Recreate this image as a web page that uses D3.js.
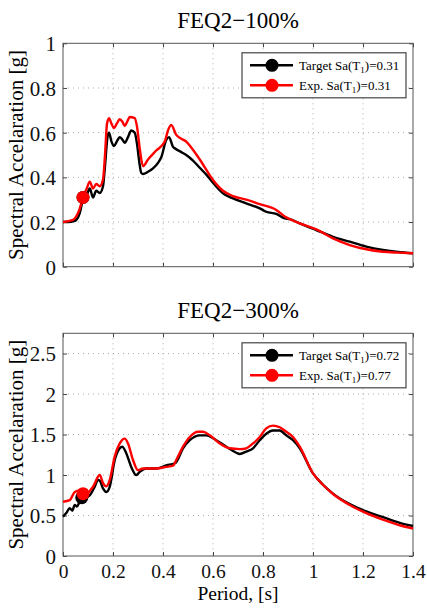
<!DOCTYPE html>
<html>
<head>
<meta charset="utf-8">
<script src="https://cdn.jsdelivr.net/npm/d3@7"></script>
<style>
  html, body { margin: 0; padding: 0; background: #fff; }
  svg { display: block; font-family: "Liberation Serif", "Times New Roman", serif; }
</style>
</head>
<body>
<svg id="chart" width="427" height="610"></svg>
<script>
// --- data ---
const xTicks = [0, 0.2, 0.4, 0.6, 0.8, 1, 1.2, 1.4];
const xTickLabels = ["0", "0.2", "0.4", "0.6", "0.8", "1", "1.2", "1.4"];

// FEQ2-100%
const topTicks = [0, 0.2, 0.4, 0.6, 0.8, 1];
const topTickLabels = ["0", "0.2", "0.4", "0.6", "0.8", "1"];
const topTargetT = [0, 0.02, 0.047, 0.067, 0.08, 0.095, 0.107, 0.12, 0.133, 0.147,
  0.16, 0.168, 0.178, 0.184, 0.194, 0.204, 0.215, 0.227, 0.237, 0.247,
  0.26, 0.273, 0.287, 0.296, 0.305, 0.313, 0.32, 0.34, 0.36, 0.38,
  0.393, 0.413, 0.424, 0.44, 0.447, 0.47, 0.493, 0.52, 0.547, 0.575,
  0.6, 0.62, 0.64, 0.68, 0.733, 0.787, 0.813, 0.853, 0.887, 0.907,
  0.947, 1.013, 1.08, 1.147, 1.213, 1.28, 1.34, 1.4];
const topTargetSa = [0.2, 0.2, 0.205, 0.24, 0.30, 0.32, 0.35, 0.31, 0.34, 0.33,
  0.36, 0.45, 0.58, 0.6, 0.56, 0.54, 0.56, 0.58, 0.57, 0.555,
  0.58, 0.61, 0.6, 0.55, 0.47, 0.42, 0.415, 0.425, 0.44, 0.465,
  0.49, 0.567, 0.58, 0.537, 0.53, 0.515, 0.5, 0.475, 0.443, 0.41,
  0.376, 0.35, 0.328, 0.306, 0.284, 0.261, 0.246, 0.236, 0.216, 0.213,
  0.194, 0.164, 0.134, 0.112, 0.09, 0.075, 0.066, 0.06];
const topExpT = [0, 0.04, 0.067, 0.08, 0.095, 0.107, 0.12, 0.133, 0.147, 0.16,
  0.168, 0.176, 0.184, 0.194, 0.204, 0.215, 0.227, 0.237, 0.247, 0.257,
  0.267, 0.287, 0.296, 0.308, 0.32, 0.34, 0.373, 0.407, 0.42, 0.433,
  0.453, 0.493, 0.547, 0.6, 0.64, 0.68, 0.733, 0.787, 0.853, 0.887,
  0.907, 0.947, 1.013, 1.08, 1.147, 1.213, 1.28, 1.34, 1.4];
const topExpSa = [0.2, 0.21, 0.26, 0.31, 0.35, 0.38, 0.35, 0.37, 0.36, 0.39,
  0.5, 0.64, 0.665, 0.64, 0.62, 0.64, 0.66, 0.65, 0.63, 0.65,
  0.67, 0.665, 0.627, 0.52, 0.45, 0.48, 0.52, 0.56, 0.61, 0.634,
  0.59, 0.56, 0.48, 0.388, 0.34, 0.316, 0.30, 0.28, 0.254, 0.225,
  0.213, 0.194, 0.167, 0.127, 0.097, 0.078, 0.067, 0.063, 0.06];
const topMarkers = [[0.08, 0.31], [0.08, 0.31]];
const topLegend = ["0.31", "0.31"];

// FEQ2-300%
const botTicks = [0, 0.5, 1, 1.5, 2, 2.5];
const botTickLabels = ["0", "0.5", "1", "1.5", "2", "2.5"];
const botTargetT = [0, 0.013, 0.027, 0.037, 0.047, 0.056, 0.067, 0.08, 0.093, 0.107,
  0.127, 0.14, 0.147, 0.16, 0.173, 0.187, 0.207, 0.227, 0.237, 0.253,
  0.273, 0.293, 0.307, 0.333, 0.373, 0.413, 0.447, 0.453, 0.48, 0.507,
  0.547, 0.573, 0.613, 0.653, 0.693, 0.707, 0.733, 0.76, 0.787, 0.813,
  0.84, 0.867, 0.893, 0.92, 0.947, 1.0, 1.04, 1.08, 1.147, 1.213,
  1.28, 1.347, 1.4];
const botTargetSa = [0.486, 0.53, 0.59, 0.56, 0.63, 0.61, 0.67, 0.69, 0.72, 0.75,
  0.856, 0.94, 0.93, 0.835, 0.79, 0.856, 1.185, 1.33, 1.35, 1.27,
  1.10, 1.0, 1.04, 1.08, 1.08, 1.12, 1.145, 1.16, 1.33, 1.43,
  1.49, 1.49, 1.43, 1.35, 1.275, 1.26, 1.29, 1.33, 1.43, 1.51,
  1.55, 1.55, 1.49, 1.43, 1.33, 1.02, 0.88, 0.77, 0.64, 0.55,
  0.48, 0.41, 0.37];
const botExpT = [0, 0.027, 0.047, 0.067, 0.093, 0.12, 0.147, 0.16, 0.173, 0.187,
  0.207, 0.227, 0.247, 0.26, 0.28, 0.3, 0.32, 0.373, 0.413, 0.44,
  0.453, 0.48, 0.507, 0.54, 0.56, 0.587, 0.627, 0.667, 0.707, 0.733,
  0.76, 0.787, 0.813, 0.84, 0.867, 0.893, 0.92, 0.947, 1.0, 1.04,
  1.08, 1.147, 1.213, 1.28, 1.347, 1.4];
const botExpSa = [0.67, 0.69, 0.79, 0.81, 0.77, 0.856, 1.0, 0.9, 0.86, 0.94,
  1.23, 1.39, 1.45, 1.39, 1.185, 1.06, 1.08, 1.08, 1.10, 1.115,
  1.185, 1.35, 1.47, 1.535, 1.535, 1.49, 1.39, 1.33, 1.32, 1.33,
  1.39, 1.47, 1.576, 1.61, 1.59, 1.535, 1.47, 1.35, 1.02, 0.88,
  0.765, 0.63, 0.53, 0.45, 0.38, 0.34];
const botMarkers = [[0.075, 0.72], [0.08, 0.77]];
const botLegend = ["0.72", "0.77"];

const colors = ["#000000", "#ff0000"];

// --- layout ---
const svg = d3.select("#chart");
const left = 63, right = 413;

const x = d3.scaleLinear().domain([0, 1.4]).range([left, right]);

function panel(cfg) {
  const y = d3.scaleLinear().domain([0, cfg.yMax]).range([cfg.bottom, cfg.top]);
  const g = svg.append("g");

  // title
  g.append("text")
    .attr("x", (left + right) / 2).attr("y", cfg.top - 15)
    .attr("text-anchor", "middle").attr("font-size", 23)
    .text(cfg.title);

  // grid
  g.selectAll("line.gx").data(xTicks.slice(1, -1)).enter().append("line")
    .attr("x1", d => x(d)).attr("x2", d => x(d))
    .attr("y1", cfg.top).attr("y2", cfg.bottom)
    .attr("stroke", "#aaa").attr("stroke-width", 1).attr("stroke-dasharray", "1,4");
  g.selectAll("line.gy").data(cfg.yTicks.filter(v => v > 0 && v < cfg.yMax)).enter().append("line")
    .attr("y1", d => y(d)).attr("y2", d => y(d))
    .attr("x1", left).attr("x2", right)
    .attr("stroke", "#aaa").attr("stroke-width", 1).attr("stroke-dasharray", "1,4");

  // axes with inward ticks, box on
  const xb = d3.axisBottom(x).tickValues(xTicks).tickSizeInner(-4).tickSizeOuter(0)
    .tickFormat((d, i) => cfg.xLabels ? xTickLabels[i] : "");
  const xt = d3.axisTop(x).tickValues(xTicks).tickSizeInner(-4).tickSizeOuter(0).tickFormat("");
  const yl = d3.axisLeft(y).tickValues(cfg.yTicks).tickSizeInner(-4).tickSizeOuter(0)
    .tickFormat((d, i) => cfg.yLabels[i]);
  const yr = d3.axisRight(y).tickValues(cfg.yTicks).tickSizeInner(-4).tickSizeOuter(0).tickFormat("");

  const axes = [
    g.append("g").attr("transform", `translate(0,${cfg.bottom})`).call(xb),
    g.append("g").attr("transform", `translate(0,${cfg.top})`).call(xt),
    g.append("g").attr("transform", `translate(${left},0)`).call(yl),
    g.append("g").attr("transform", `translate(${right},0)`).call(yr)
  ];
  axes.forEach(a => {
    a.select(".domain").remove();
    a.selectAll("line").attr("stroke", "#444");
    a.selectAll("text").attr("font-family", "Liberation Serif, serif")
      .attr("font-size", 21).attr("fill", "#111");
  });
  axes[0].selectAll("text").attr("dy", null).attr("y", 22).attr("font-size", 19.5);
  axes[2].selectAll("text").attr("x", -7).attr("dy", "0.35em");

  g.append("rect")
    .attr("x", left).attr("y", cfg.top)
    .attr("width", right - left).attr("height", cfg.bottom - cfg.top)
    .attr("fill", "none").attr("stroke", "#555").attr("stroke-width", 1);

  // y label
  g.append("text")
    .attr("transform", `translate(23,${(cfg.top + cfg.bottom) / 2}) rotate(-90)`)
    .attr("text-anchor", "middle").attr("font-size", 21)
    .text("Spectral Accelaration [g]");

  // curves
  const line = d3.line().x(d => x(d[0])).y(d => y(d[1])).curve(d3.curveMonotoneX);
  cfg.series.forEach((s, i) => {
    const pts = s.T.map((t, k) => [t, s.Sa[k]]);
    g.append("path").datum(pts)
      .attr("d", line)
      .attr("fill", "none").attr("stroke", colors[i])
      .attr("stroke-width", 2.4).attr("stroke-linejoin", "round");
  });
  cfg.markers.forEach((m, i) => {
    g.append("circle")
      .attr("cx", x(m[0])).attr("cy", y(m[1])).attr("r", 6.5)
      .attr("fill", colors[i]);
  });

  // legend
  const lx = 242, ly = cfg.top + 9.5, lw = 164, lh = 45;
  g.append("rect").attr("x", lx).attr("y", ly).attr("width", lw).attr("height", lh)
    .attr("fill", "#fff").attr("stroke", "#444").attr("stroke-width", 1.2);
  const names = ["Target", "Exp."];
  names.forEach((n, i) => {
    const yy = ly + 12.5 + i * 20;
    g.append("line").attr("x1", lx + 8).attr("x2", lx + 51).attr("y1", yy).attr("y2", yy)
      .attr("stroke", colors[i]).attr("stroke-width", 2.4);
    g.append("circle").attr("cx", lx + 30).attr("cy", yy).attr("r", 6.5).attr("fill", colors[i]);
    const t = g.append("text").attr("x", lx + 57).attr("y", yy + 4.5).attr("font-size", 13);
    t.append("tspan").text(n + " Sa(T");
    t.append("tspan").attr("font-size", 9).attr("dy", 3).text("1");
    t.append("tspan").attr("dy", -3).text(")=" + cfg.legendVals[i]);
  });

  if (cfg.xLabels) {
    g.append("text")
      .attr("x", (left + right) / 2).attr("y", 600)
      .attr("text-anchor", "middle").attr("font-size", 19.5)
      .text("Period, [s]");
  }
}

panel({
  title: "FEQ2\u2212100%", top: 43.3, bottom: 266.7, yMax: 1,
  yTicks: topTicks, yLabels: topTickLabels, xLabels: false,
  series: [{ T: topTargetT, Sa: topTargetSa }, { T: topExpT, Sa: topExpSa }],
  markers: topMarkers, legendVals: topLegend
});

panel({
  title: "FEQ2\u2212300%", top: 333.3, bottom: 556, yMax: 2.75,
  yTicks: botTicks, yLabels: botTickLabels, xLabels: true,
  series: [{ T: botTargetT, Sa: botTargetSa }, { T: botExpT, Sa: botExpSa }],
  markers: botMarkers, legendVals: botLegend
});
</script>
</body>
</html>
